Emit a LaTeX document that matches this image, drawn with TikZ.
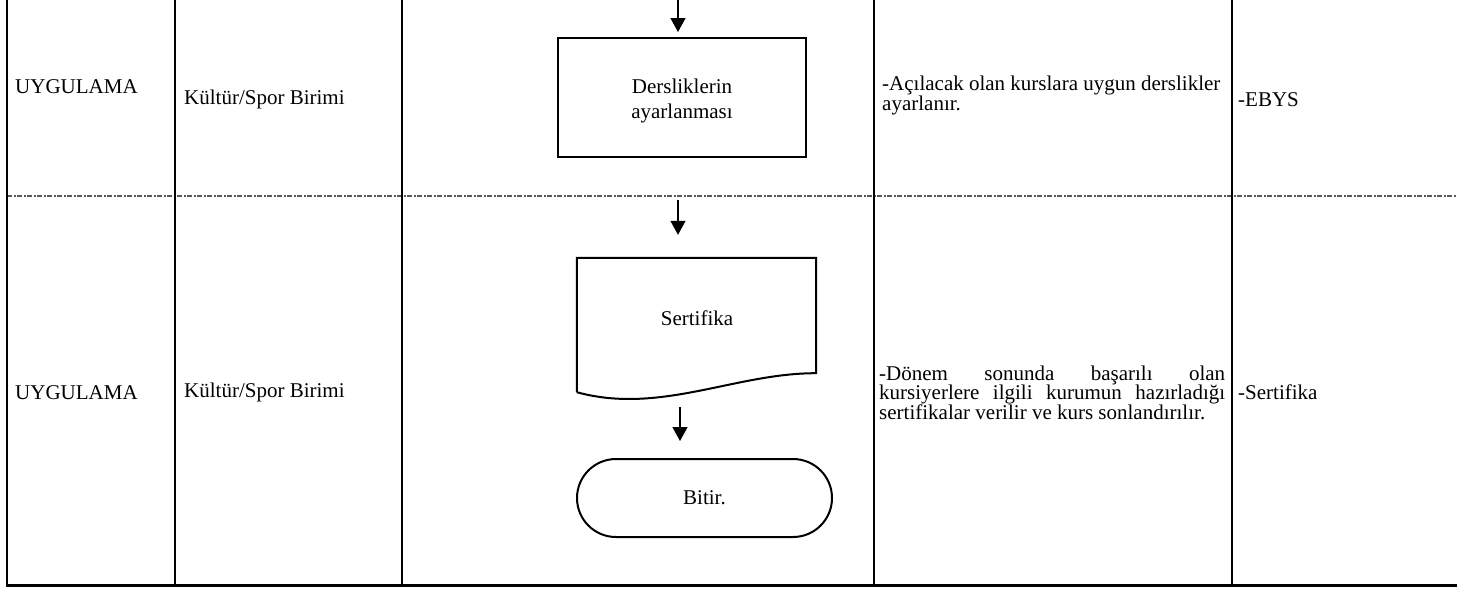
\documentclass[tikz,border=0pt]{standalone}
\usepackage{fontspec}
\setmainfont{Liberation Serif}
\usetikzlibrary{arrows.meta}
\begin{document}
\begin{tikzpicture}[x=1pt,y=-1pt,
  txt/.style={anchor=base west, inner sep=0pt, font=\fontsize{21}{25.7}\selectfont},
  tight/.style={txt, text height=12pt, text depth=3pt},
  ctxt/.style={inner sep=0pt, align=center, font=\fontsize{21}{25.2}\selectfont},
  grid/.style={line width=2pt, black},
  flowbox/.style={draw, line width=2pt, rectangle, minimum width=248pt, minimum height=119pt, inner sep=0pt},
  docbox/.style={rectangle, minimum width=239pt, minimum height=134pt, inner sep=0pt},
  term/.style={draw, line width=2pt, rectangle, rounded corners=39pt, minimum width=255pt, minimum height=78pt, font=\fontsize{21}{25.7}\selectfont},
  arr/.style={line width=1.3pt, -{Triangle[length=14pt,width=15pt]}},
  sep/.style={line width=1.2pt, black!65, dash pattern=on 5pt off 1.5pt on 2pt off 1.5pt}
]
\fill[white] (0,0) rectangle (1457,590);
\useasboundingbox (0,0) rectangle (1457,590);

% table grid
\draw[sep] (7,196) -- (1457,196);
\draw[grid] (7,0) -- (7,585);
\draw[grid] (175,0) -- (175,585);
\draw[grid] (402,0) -- (402,585);
\draw[grid] (874,0) -- (874,585);
\draw[grid] (1232,0) -- (1232,585);
\draw[line width=3pt] (6,585) -- (1457,585);

% row 1 texts
\node[txt] (u1) at (15,93) {UYGULAMA};
\node[txt] (k1) at (184,104) {Kültür/Spor Birimi};
\node[tight] (d1a) at (882,90.5) {-Açılacak olan kurslara uygun derslikler};
\node[tight] (d1b) at (882,110) {ayarlanır.};
\node[txt] (e1) at (1238,106) {-EBYS};

% row 2 texts
\node[txt] (u2) at (15,399) {UYGULAMA};
\node[txt] (k2) at (184,397) {Kültür/Spor Birimi};
\node[tight] (d2a) at (879,380) {\makebox[346pt][s]{-Dönem sonunda başarılı olan}};
\node[tight] (d2b) at (879,399.5) {\makebox[346pt][s]{kursiyerlere ilgili kurumun hazırladığı}};
\node[tight] (d2c) at (879,419) {sertifikalar verilir ve kurs sonlandırılır.};
\node[txt] (e2) at (1238,399.5) {-Sertifika};

% flow shapes
\node[flowbox] (box) at (682,97.5) {};
\node[ctxt] (boxt) at (682,101) {Dersliklerin\\ayarlanması};

\node[docbox] (doc) at (696.5,325) {};
\draw[line width=2pt, line join=miter] (doc.south west) -- (doc.north west) -- (doc.north east) -- ([yshift=19pt]doc.south east)
  .. controls (735,373) and (660,415) .. (doc.south west);
\node[anchor=base, inner sep=0pt, font=\fontsize{21}{25.7}\selectfont] (doct) at (697,325) {Sertifika};

\node[term] (bit) at (704.5,498) {Bitir.};

% connectors
\coordinate (a1s) at (678,0);
\draw[arr, shorten >=5pt] (a1s) -- (a1s |- box.north);
\coordinate (a2s) at (678,200);
\draw[arr, shorten >=23pt] (a2s) -- (a2s |- doc.north);
\coordinate (a3s) at (680,407);
\draw[arr, shorten >=17pt] (a3s) -- (a3s |- bit.north);
\end{tikzpicture}
\end{document}
